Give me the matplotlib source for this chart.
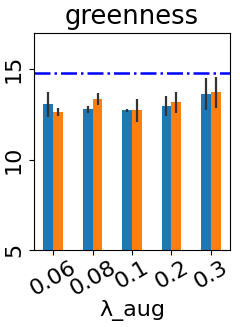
import numpy as np
import matplotlib
matplotlib.use("Agg")
import matplotlib.pyplot as plt

categories = ["0.06", "0.08", "0.1", "0.2", "0.3"]
blue_means = [13.04, 12.78, 12.71, 12.93, 13.62]
blue_err = [0.70, 0.19, 0.08, 0.55, 0.87]
orange_means = [12.62, 13.33, 12.71, 13.15, 13.72]
orange_err = [0.22, 0.32, 0.62, 0.60, 0.85]
baseline = 14.77

x = np.arange(len(categories))
w = 0.25

fig, ax = plt.subplots(figsize=(2.4, 3.27), dpi=100)
ax.bar(x - w / 2, blue_means, w, yerr=blue_err, color="#1f77b4",
       error_kw=dict(ecolor="#333333", elinewidth=1.6))
ax.bar(x + w / 2, orange_means, w, yerr=orange_err, color="#ff7f0e",
       error_kw=dict(ecolor="#333333", elinewidth=1.6))
ax.axhline(baseline, color="blue", linestyle="-.", linewidth=1.8)

ax.set_xlim(-0.5, len(categories) - 0.5)
ax.set_ylim(5, 17)
ax.set_yticks([5, 10, 15])
ax.set_xticks(x)
ax.set_xticklabels(categories, rotation=30, fontsize=16)
for lbl in ax.get_yticklabels():
    lbl.set_rotation(90)
    lbl.set_verticalalignment("center")
ax.tick_params(axis="y", labelsize=16)
ax.tick_params(axis="x", pad=2)
ax.set_xlabel("λ_aug", fontsize=16, labelpad=0)
ax.set_title("greenness", fontsize=18.5)

fig.subplots_adjust(left=0.14, right=0.96, top=0.9, bottom=0.235)
fig.savefig("out.png", dpi=100)
